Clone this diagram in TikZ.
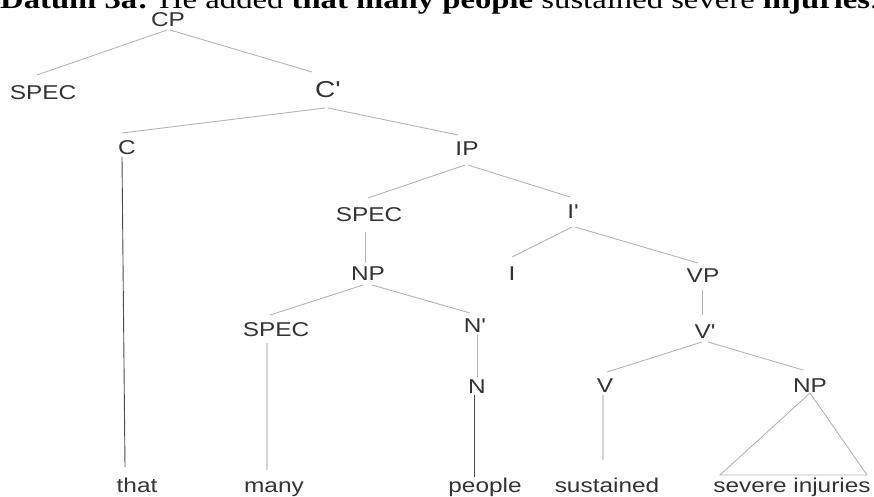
\documentclass[tikz,border=0pt]{standalone}
\usepackage{fontspec}
\setmainfont{Liberation Serif}
\newfontfamily\arialfam{Liberation Sans}
\usetikzlibrary{calc}
\definecolor{inkgray}{HTML}{333333}
\definecolor{branch}{HTML}{B4B4B4}
\definecolor{darkbranch}{HTML}{4A4A4A}
\definecolor{palebranch}{HTML}{D4D4D4}
% tree labels are set slightly wider than the font's natural shape
\newcommand\widen[1]{\scalebox{1.22}[1]{#1}}
\newcommand\pr{\textquotesingle}
\begin{document}
\begin{tikzpicture}[x=1pt,y=-1pt,
  lab/.style={inner sep=0pt, text=inkgray, font=\arialfam\fontsize{20}{20}\selectfont},
  biglab/.style={lab, font=\arialfam\fontsize{23}{23}\selectfont},
  word/.style={lab, anchor=base},
  edge/.style={draw=branch, line width=0.9pt},
  darkedge/.style={draw=darkbranch, line width=0.9pt},
  paleedge/.style={draw=palebranch, line width=1.2pt}]
\useasboundingbox (0,0) rectangle (874,497);
\clip (0,0) rectangle (874,497);

% heading
\node[anchor=base west, inner sep=0pt, font=\fontsize{26.8}{26.8}\selectfont] (title) at (0,9)
  {\widen{\textbf{Datum 3a:} He added \textbf{that many people} sustained severe \textbf{injuries}.}};

% category labels
\node[lab]    (cp)   at (168,20)  {\widen{CP}};
\node[lab]    (spA)  at (43,93)   {\widen{SPEC}};
\node[biglab] (cbar) at (328,90)  {\widen{C\pr}};
\node[lab]    (c)    at (127,148) {\widen{C}};
\node[lab]    (ip)   at (467,149) {\widen{IP}};
\node[lab]    (spB)  at (369,215) {\widen{SPEC}};
\node[lab]    (ibar) at (573,212) {\widen{I\pr}};
\node[lab]    (npA)  at (368,274) {\widen{NP}};
\node[lab]    (i)    at (512,274) {\widen{I}};
\node[lab]    (vp)   at (703,276) {\widen{VP}};
\node[lab]    (spC)  at (276,330) {\widen{SPEC}};
\node[lab]    (nbar) at (475,326) {\widen{N\pr}};
\node[lab]    (vbar) at (705,332) {\widen{V\pr}};
\node[lab]    (n)    at (477,387) {\widen{N}};
\node[lab]    (v)    at (605,386) {\widen{V}};
\node[lab]    (npB)  at (810,386) {\widen{NP}};

% words
\node[word] (that)  at (137,492) {\widen{that}};
\node[word] (many)  at (274,492) {\widen{many}};
\node[word] (people) at (485,492) {\widen{people}};
\node[word] (sust)  at (607,492) {\widen{sustained}};
\node[word] (sevinj) at (792,492) {\widen{severe injuries}};

% branches
\draw[edge] ($(cp)+(-1,10)$) -- ($(spA)+(-6,-18)$);
\draw[edge] ($(cp)+(2,10)$) -- ($(cbar)+(-16,-18)$);
\draw[edge] ($(cbar)+(-3,18)$) -- ($(c)+(-5,-15)$);
\draw[edge] ($(cbar)+(0,18)$) -- ($(ip)+(-9,-14)$);
\draw[darkedge] ($(c)+(-5,9)$) -- ($(that.base)+(-12,-25)$);
\draw[edge] ($(ip)+(-2,16)$) -- ($(spB)+(-1,-17)$);
\draw[edge] ($(ip)+(1,16)$) -- ($(ibar)+(-3,-15)$);
\draw[edge] ($(spB)+(-4,17)$) -- ($(npA)+(-3,-11)$);
\draw[edge] ($(ibar)+(-1,15)$) -- ($(i)+(0,-17)$);
\draw[edge] ($(ibar)+(2,15)$) -- ($(vp)+(-5,-13)$);
\draw[edge] ($(npA)+(-5,11)$) -- ($(spC)+(-6,-15)$);
\draw[edge] ($(npA)+(4,11)$) -- ($(nbar)+(-5,-13)$);
\draw[edge] ($(vp)+(-1,14)$) -- ($(vbar)+(-3,-17)$);
\draw[paleedge] ($(spC)+(-9,13)$) -- ($(many.base)+(-7,-22)$);
\draw[edge] ($(nbar)+(2,9)$) -- ($(n)+(0,-10)$);
\draw[edge] ($(vbar)+(-3,10)$) -- ($(v)+(2,-14)$);
\draw[edge] ($(vbar)+(3,10)$) -- ($(npB)+(-7,-16)$);
\draw[darkedge] ($(n)+(-3,8)$) -- ($(people.base)+(-11,-15)$);
\draw[paleedge] ($(v)+(-2,9)$) -- ($(sust.base)+(-4,-32)$);

% triangle over the unanalysed phrase
\coordinate (triL) at ($(sevinj.base)+(-72,-17)$);
\coordinate (triR) at ($(sevinj.base)+(75,-17)$);
\draw[edge] ($(npB)+(0,7)$) -- (triL) -- (triR) -- cycle;
\end{tikzpicture}
\end{document}
